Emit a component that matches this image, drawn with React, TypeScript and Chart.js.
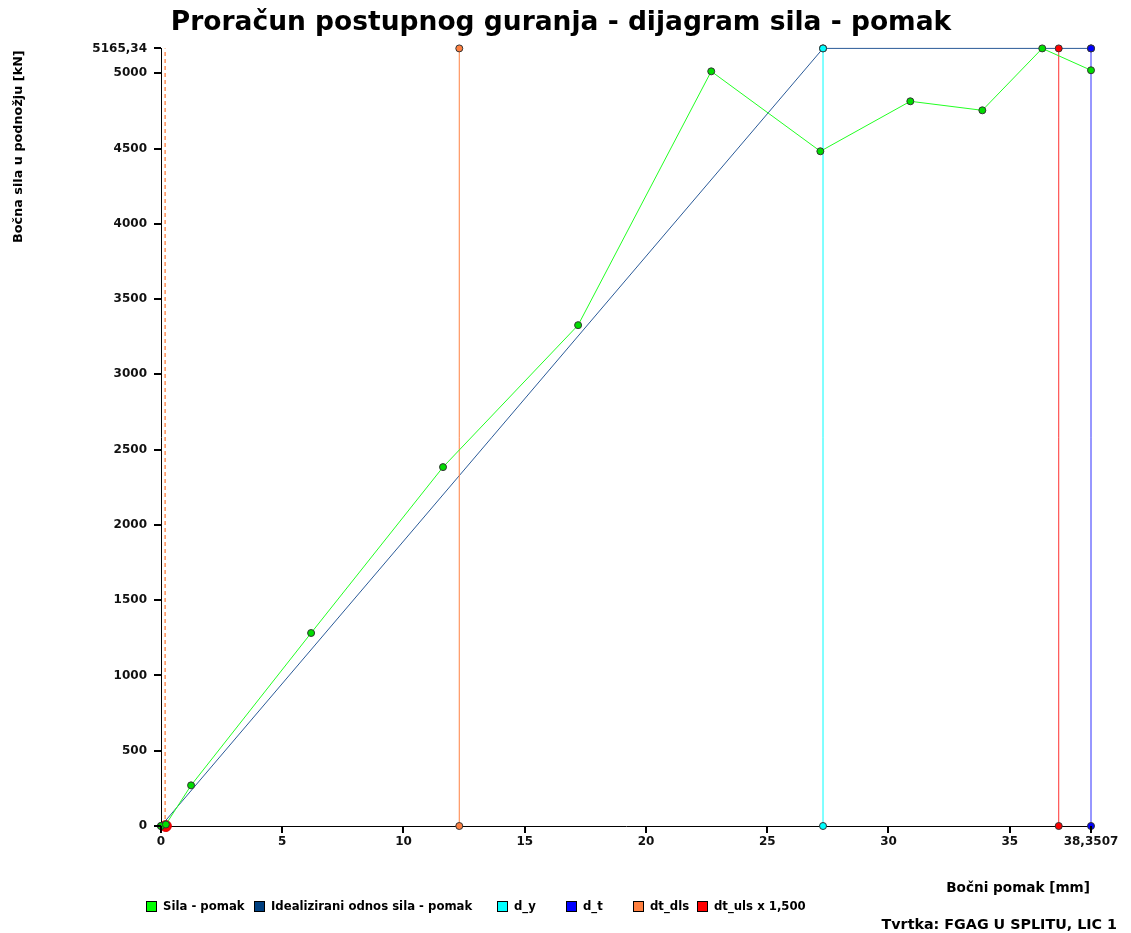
import React, { useEffect, useRef } from 'react';
import { Chart, registerables } from 'chart.js';

Chart.register(...registerables);

// ---------- data ----------
const xTicks = [0, 5, 10, 15, 20, 25, 30, 35, 38.3507];
const yTicks = [0, 500, 1000, 1500, 2000, 2500, 3000, 3500, 4000, 4500, 5000, 5165.34];

const silaX = [0, 0.2, 1.24, 6.19, 11.63, 17.2, 22.69, 27.19, 30.9, 33.87, 36.34, 38.3507];
const silaY = [0, 10, 270, 1282, 2384, 3327, 5013, 4482, 4814, 4754, 5165.34, 5020];

const idealX = [0, 27.3, 38.3507];
const idealY = [0, 5165.34, 5165.34];

const forceMax = 5165.34;
const dispMax = 38.3507;
const dY = 27.3;
const dT = 38.3507;
const dtDls = 12.3;
const dtUls = 37.02;
const dashX = 0.17;
const originRedX = 0.2;

const legendLabels = [
  'Sila - pomak',
  'Idealizirani odnos sila - pomak',
  'd_y',
  'd_t',
  'dt_dls',
  'dt_uls x 1,500',
];
const legendColors = ['#00ff00', '#003f7f', '#00ffff', '#0000ff', '#ff8040', '#ff0000'];

const titleText = 'Proračun postupnog guranja - dijagram sila - pomak';
const yTitle = 'Bočna sila u podnožju [kN]';
const xTitle = 'Bočni pomak [mm]';
const footerText = 'Tvrtka: FGAG U SPLITU, LIC 1';

const FONT = '"DejaVu Sans", Verdana, sans-serif';

const fmt = (v: number) => String(v).replace('.', ',');

const vLine = (x: number) => [
  { x, y: 0 },
  { x, y: forceMax },
];

export default function App() {
  const ref = useRef<HTMLCanvasElement | null>(null);

  useEffect(() => {
    document.body.style.margin = '0';
    const canvas = ref.current;
    if (!canvas) return;

    const overlayPlugin = {
      id: 'overlay',
      afterDraw(chart: any) {
        const ctx = chart.ctx as CanvasRenderingContext2D;
        const xs = chart.scales.x;
        const ys = chart.scales.y;
        const area = chart.chartArea;
        ctx.save();
        // tick marks
        ctx.strokeStyle = '#000';
        ctx.lineWidth = 2;
        ctx.beginPath();
        xTicks.forEach((v) => {
          const px = Math.round(xs.getPixelForValue(v));
          ctx.moveTo(px, area.bottom);
          ctx.lineTo(px, area.bottom + 7);
        });
        yTicks.forEach((v) => {
          const py = Math.round(ys.getPixelForValue(v));
          ctx.moveTo(area.left, py);
          ctx.lineTo(area.left - 7, py);
        });
        ctx.stroke();

        ctx.fillStyle = '#000';
        // title
        ctx.font = `bold 26.5px ${FONT}`;
        ctx.textAlign = 'center';
        ctx.textBaseline = 'middle';
        ctx.fillText(titleText, 561, 23);

        // y title
        ctx.save();
        ctx.translate(19, 243);
        ctx.rotate(-Math.PI / 2);
        ctx.font = `bold 12.8px ${FONT}`;
        ctx.textAlign = 'left';
        ctx.textBaseline = 'middle';
        ctx.fillText(yTitle, 0, 0);
        ctx.restore();

        // x title
        ctx.font = `bold 13.6px ${FONT}`;
        ctx.textAlign = 'right';
        ctx.textBaseline = 'middle';
        ctx.fillText(xTitle, 1090, 888);
        // footer
        ctx.font = `bold 14.3px ${FONT}`;
        ctx.fillText(footerText, 1117, 925);

        // legend
        ctx.font = `bold 11.7px ${FONT}`;
        ctx.textAlign = 'left';
        ctx.textBaseline = 'middle';
        const slots = [146, 254, 497, 566, 633, 697];
        const y = 907;
        legendLabels.forEach((lab, i) => {
          const x = slots[i];
          ctx.fillStyle = legendColors[i];
          ctx.fillRect(x, y - 6, 11, 11);
          ctx.strokeStyle = '#000';
          ctx.lineWidth = 1;
          ctx.strokeRect(x + 0.5, y - 5.5, 10, 10);
          ctx.fillStyle = '#000';
          ctx.fillText(lab, x + 17, y);
        });
        ctx.restore();
      },
    };

    const pt = {
      pointRadius: 3.5,
      pointBorderColor: '#333',
      pointBorderWidth: 1,
      borderWidth: 1,
      showLine: true,
      clip: false as any,
    };

    const chart = new Chart(canvas, {
      type: 'scatter',
      data: {
        datasets: [
          {
            label: legendLabels[0],
            data: silaX.map((x, i) => ({ x, y: silaY[i] })),
            borderColor: '#22ff22',
            backgroundColor: '#00ff00',
            pointBackgroundColor: '#00dd00',
            order: 0,
            ...pt,
          },
          {
            label: legendLabels[1],
            data: idealX.map((x, i) => ({ x, y: idealY[i] })),
            borderColor: '#2a5a98',
            backgroundColor: '#003f7f',
            pointBackgroundColor: '#003f7f',
            order: 3,
            ...pt,
          },
          {
            label: legendLabels[2],
            data: vLine(dY),
            borderColor: '#00ffff',
            backgroundColor: '#00ffff',
            pointBackgroundColor: '#00ffff',
            order: 2,
            ...pt,
          },
          {
            label: legendLabels[3],
            data: vLine(dT),
            borderColor: '#3030ff',
            backgroundColor: '#0000ff',
            pointBackgroundColor: '#0000ff',
            order: 2,
            ...pt,
          },
          {
            label: legendLabels[4],
            data: vLine(dtDls),
            borderColor: '#ff8040',
            backgroundColor: '#ff8040',
            pointBackgroundColor: '#ff8040',
            order: 2,
            ...pt,
          },
          {
            label: legendLabels[5],
            data: vLine(dtUls),
            borderColor: '#ff3030',
            backgroundColor: '#ff0000',
            pointBackgroundColor: '#ff0000',
            order: 1,
            ...pt,
          },
          {
            label: 'dashed',
            data: vLine(dashX),
            borderColor: '#ff8040',
            borderDash: [4, 3],
            borderWidth: 1.3,
            pointRadius: 0,
            showLine: true,
            clip: false as any,
            order: 5,
          },
          {
            label: 'origin',
            data: [{ x: originRedX, y: 0 }],
            backgroundColor: '#ff0000',
            pointBackgroundColor: '#ff0000',
            pointBorderColor: '#dd0000',
            pointRadius: 5.5,
            showLine: false,
            clip: false as any,
            order: 10,
          },
        ],
      },
      options: {
        animation: false,
        responsive: false,
        events: [],
        layout: { padding: { top: 48.4, right: 40, bottom: 0, left: 0 } },
        plugins: {
          legend: { display: false },
          tooltip: { enabled: false },
          title: { display: false },
        },
        scales: {
          x: {
            type: 'linear',
            min: 0,
            max: dispMax,
            afterBuildTicks: (s: any) => {
              s.ticks = xTicks.map((v) => ({ value: v }));
            },
            afterFit: (s: any) => {
              s.height = 107;
            },
            ticks: {
              autoSkip: false,
              maxRotation: 0,
              padding: 9,
              color: '#111',
              font: { family: FONT, size: 12, weight: 'bold' },
              callback: (v: any) => fmt(Number(v)),
            },
            grid: { drawOnChartArea: false, drawTicks: false, tickLength: 6, color: '#333' },
            border: { display: true, color: '#000', width: 1 },
          },
          y: {
            type: 'linear',
            min: 0,
            max: forceMax,
            afterBuildTicks: (s: any) => {
              s.ticks = yTicks.map((v) => ({ value: v }));
            },
            afterFit: (s: any) => {
              s.width = 161;
            },
            ticks: {
              autoSkip: false,
              padding: 14,
              color: '#111',
              font: { family: FONT, size: 12, weight: 'bold' },
              callback: (v: any) => fmt(Number(v)),
            },
            grid: { drawOnChartArea: false, drawTicks: false, tickLength: 6, color: '#333' },
            border: { display: true, color: '#000', width: 1 },
          },
        },
      },
      plugins: [overlayPlugin],
    } as any);

    return () => chart.destroy();
  }, []);

  return (
    <div style={{ width: 1131, height: 933, background: '#fff' }}>
      <canvas ref={ref} width={1131} height={933} style={{ display: 'block' }} />
    </div>
  );
}
